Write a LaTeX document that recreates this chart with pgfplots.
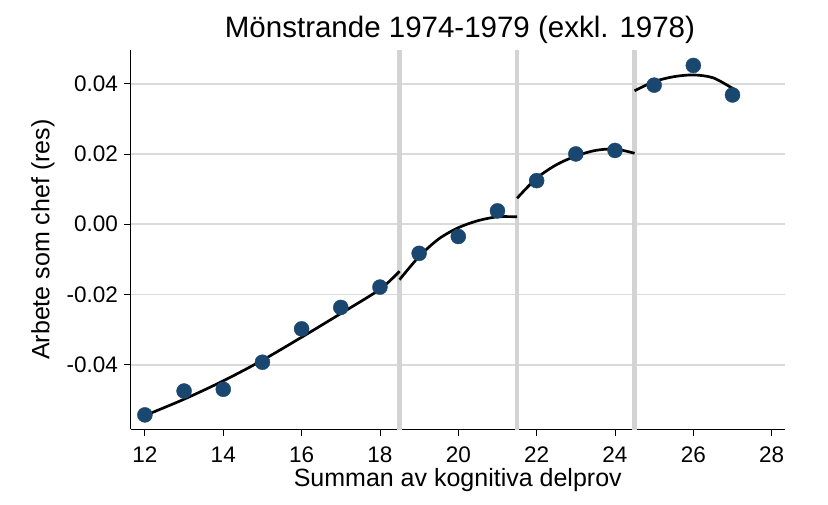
\documentclass[border=0pt]{standalone}
\usepackage{fontspec}
\setmainfont{Liberation Sans}
\usepackage{pgfplots}
\pgfplotsset{compat=1.18}
\definecolor{navy}{RGB}{26,71,111}
\definecolor{vgray}{RGB}{211,211,211}
\definecolor{ggray}{RGB}{218,218,218}
\begin{document}
\begin{tikzpicture}
\path[use as bounding box] (0,0) rectangle (828pt,504pt);
\begin{axis}[
  at={(130.5pt,74.7pt)}, anchor=south west,
  scale only axis, width=654.5pt, height=379.3pt,
  xmin=11.632, xmax=28.34, ymin=-0.0584, ymax=0.0496,
  axis x line*=bottom, axis y line*=left,
  axis line style={black, line width=0.9pt, -},
  scaled y ticks=false, scaled x ticks=false,
  xtick={12,14,16,18,20,22,24,26,28},
  xticklabels={12,14,16,18,20,22,24,26,28},
  ytick={-0.04,-0.02,0,0.02,0.04},
  yticklabels={-0.04,-0.02,0.00,0.02,0.04},
  tick align=outside, major tick length=7pt,
  tick style={black, line width=0.9pt},
  ymajorgrids, grid style={ggray, line width=1.8pt},
  every tick label/.append style={font=\fontsize{22.5}{27}\selectfont},
  xticklabel style={anchor=base, yshift=-26.4pt},
  yticklabel style={anchor=east, inner sep=0pt, xshift=-5.5pt},
  title={Mönstrande 1974-1979 (exkl. 1978)},
  title style={at={(axis description cs:0.5034,1.0177)}, anchor=base, font=\fontsize{29.5}{35}\selectfont, inner sep=0pt},
  xlabel={Summan av kognitiva delprov},
  xlabel style={at={(axis description cs:0.5,-0.1513)}, anchor=base, font=\fontsize{25}{30}\selectfont, inner sep=0pt},
  ylabel={Arbete som chef (res)},
  ylabel style={at={(axis description cs:-0.124,0.5)}, anchor=base, font=\fontsize{25}{30}\selectfont, inner sep=0pt},
]
% vertical separators
\addplot[vgray, line width=4.7pt, forget plot] coordinates {(18.5,-0.0590) (18.5,0.0496)};
\addplot[vgray, line width=4.7pt, forget plot] coordinates {(21.5,-0.0590) (21.5,0.0496)};
\addplot[vgray, line width=4.7pt, forget plot] coordinates {(24.5,-0.0590) (24.5,0.0496)};
% binned means
\addplot[only marks, mark=*, mark size=7.5pt, color=navy, mark options={solid, fill=navy, draw=navy, line width=0.4pt}] coordinates {
(12,-0.0543) (13,-0.0475) (14,-0.0470) (15,-0.0393) (16,-0.0298) (17,-0.0237)
(18,-0.0179) (19,-0.0083) (20,-0.0035) (21,0.0038) (22,0.0124) (23,0.0200)
(24,0.0210) (25,0.0396) (26,0.0452) (27,0.0368)};
% fitted curves
\addplot[black, line width=2.7pt, smooth] coordinates {
(12,-0.05448) (13,-0.04983) (14,-0.04461) (15,-0.03873) (16,-0.03218) (17,-0.02544) (18,-0.01852) (18.5,-0.01340)};
\addplot[black, line width=2.7pt, smooth] coordinates {
(18.5,-0.0158) (19,-0.0092) (19.5,-0.0042) (20,-0.0010) (20.5,0.0010) (21,0.0021) (21.5,0.0021)};
\addplot[black, line width=2.7pt, smooth] coordinates {
(21.5,0.0074) (22,0.0131) (22.5,0.0169) (23,0.0194) (23.5,0.0210) (24,0.0214) (24.5,0.0202)};
\addplot[black, line width=2.7pt, smooth] coordinates {
(24.5,0.0380) (25,0.0406) (25.5,0.0420) (26,0.0425) (26.5,0.0417) (27,0.0387) (27.05,0.0383)};
\end{axis}
\end{tikzpicture}
\end{document}
